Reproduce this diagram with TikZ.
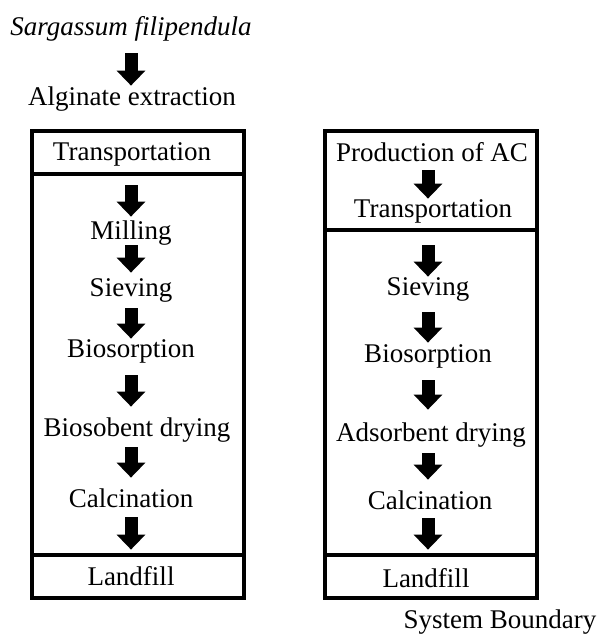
\documentclass[tikz,border=0pt]{standalone}
\usepackage{fontspec}
\setmainfont{Liberation Serif}
\usetikzlibrary{arrows.meta}
\begin{document}
\begin{tikzpicture}[x=0.5pt,y=-0.5pt,
    lbl/.style={anchor=base,inner sep=0pt,text height=9pt,text depth=3pt,font=\fontsize{13.5}{16}\selectfont},
    flow/.style={line width=6.5pt,-{Triangle[length=7.5pt,width=14pt]}},
    frame/.style={line width=2.2pt}]
  \useasboundingbox (0,0) rectangle (601,639);
  % raw material
  \node[lbl,font=\fontsize{13.5}{16}\selectfont\itshape] (sarg) at (131,35) {Sargassum filipendula};
  \node[lbl] (algi) at (132,105) {Alginate extraction};
  % left route: biosorbent
  \draw[frame] (32,131) rectangle (244,598);
  \draw[frame] (32,174) -- (244,174);
  \draw[frame] (32,555) -- (244,555);
  \node[lbl] (ltrans) at (132,160) {Transportation};
  \node[lbl] (lmill) at (131,239) {Milling};
  \node[lbl] (lsiev) at (131,296) {Sieving};
  \node[lbl] (lbios) at (131,357) {Biosorption};
  \node[lbl] (ldry) at (137,436) {Biosobent drying};
  \node[lbl] (lcalc) at (131,507) {Calcination};
  \node[lbl] (lland) at (131,585) {Landfill};
  \draw[flow,shorten <=6pt,shorten >=0.5pt] (sarg) -- (algi.north -| sarg);
  \draw[flow,shorten <=9.5pt,shorten >=2pt] (ltrans.south -| lmill) -- (lmill);
  \draw[flow,shorten >=2.5pt] (lmill) -- (lsiev);
  \draw[flow,shorten <=3pt] (lsiev) -- (lbios);
  \draw[flow,shorten <=6pt,shorten >=5.5pt] (lbios) -- (ldry.north -| lbios);
  \draw[flow,shorten <=2.5pt,shorten >=5.5pt] (ldry.south -| lbios) -- (lcalc);
  \draw[flow,shorten <=2pt,shorten >=8.5pt] (lcalc) -- (lland);
  % right route: activated carbon
  \draw[frame] (325,131) rectangle (537,598);
  \draw[frame] (325,230) -- (537,230);
  \draw[frame] (325,555) -- (537,555);
  \node[lbl] (rprod) at (432,161) {Production of AC};
  \node[lbl] (rtrans) at (433,217) {Transportation};
  \node[lbl] (rsiev) at (428,295) {Sieving};
  \node[lbl] (rbios) at (428,362) {Biosorption};
  \node[lbl] (rdry) at (431,441) {Adsorbent drying};
  \node[lbl] (rcalc) at (430,509) {Calcination};
  \node[lbl] (rland) at (426,587) {Landfill};
  \draw[flow,shorten <=1.5pt] (rprod.south -| rsiev) -- (rtrans.north -| rsiev);
  \draw[flow,shorten <=11pt] (rtrans.south -| rsiev) -- (rsiev);
  \draw[flow,shorten <=5.5pt,shorten >=0.5pt] (rsiev) -- (rbios);
  \draw[flow,shorten <=6pt,shorten >=6.5pt] (rbios) -- (rdry.north -| rbios);
  \draw[flow,shorten <=3pt,shorten >=5.5pt] (rdry.south -| rbios) -- (rcalc.north -| rbios);
  \draw[flow,shorten <=1.5pt,shorten >=9.5pt] (rcalc.south -| rbios) -- (rland.north -| rbios);
  \node[lbl] (sysb) at (500,628) {System Boundary};
\end{tikzpicture}
\end{document}
